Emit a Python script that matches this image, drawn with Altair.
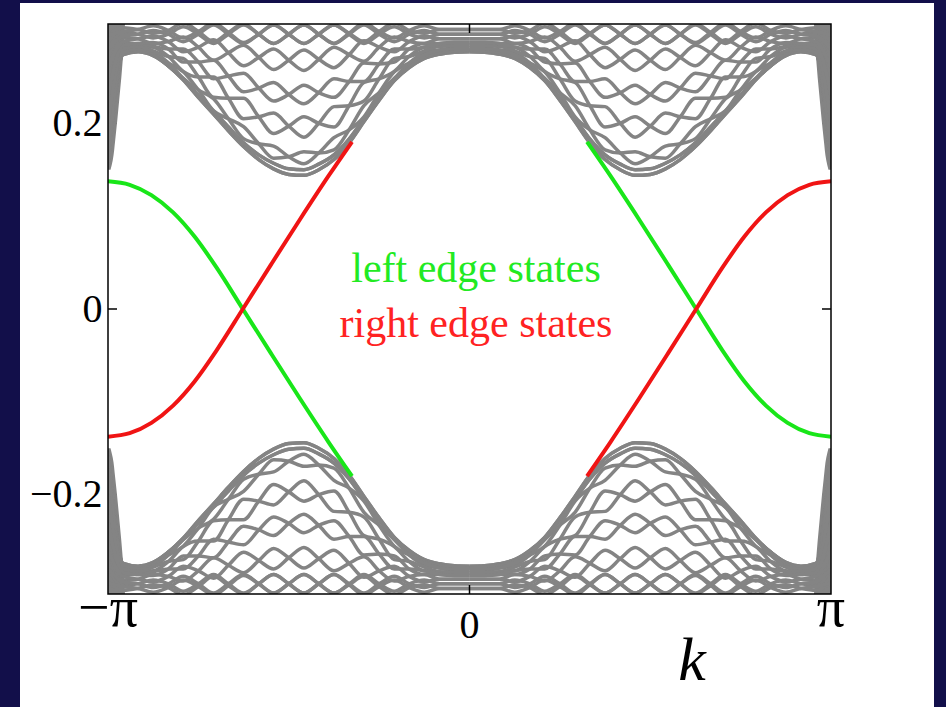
import altair as alt
import pandas as pd

# Momentum grid (in units of pi) for the k < 0 half of the zone
K_GRID = [-1.0, -0.958, -0.917, -0.875, -0.833, -0.792, -0.75, -0.708, -0.667,
          -0.625, -0.583, -0.542, -0.5, -0.458, -0.417, -0.375, -0.333, -0.292,
          -0.25, -0.208, -0.167, -0.125, -0.083, -0.042, 0.0]

# Alternating sign that makes paired bulk subbands braid around each other
BRAID = [0, 1, 0, -1, 0, 1, 0, -1, 0, 1, 0, -1, 0, 1, 0, -1, 0, 1, 0, -1, 0, 1, 0, -1, 0]

# Conduction-band subbands for k < 0 (centre of each braided pair, half splitting)
ENVELOPE = [0.154, 0.274, 0.277, 0.273, 0.262, 0.247, 0.228, 0.210, 0.192, 0.175,
            0.161, 0.151, 0.145, 0.144, 0.150, 0.161, 0.179, 0.202, 0.225, 0.246,
            0.260, 0.270, 0.2745, 0.2765, 0.277]
ENVELOPE_2 = [0.158, 0.275, 0.278, 0.274, 0.262, 0.248, 0.230, 0.213, 0.196, 0.179,
              0.166, 0.157, 0.151, 0.150, 0.156, 0.166, 0.183, 0.205, 0.227, 0.247,
              0.261, 0.272, 0.2765, 0.278, 0.279]
ROW_B = [0.172, 0.277, 0.280, 0.276, 0.265, 0.252, 0.236, 0.220, 0.205, 0.190,
         0.178, 0.169, 0.164, 0.163, 0.168, 0.178, 0.193, 0.213, 0.233, 0.252,
         0.265, 0.275, 0.279, 0.281, 0.281]
GAP_B = [0, 0.0005, 0, 0.001, 0.002, 0.0035, 0.005, 0.0065, 0.0065, 0.0065,
         0.0065, 0.0065, 0.0065, 0.0065, 0.0065, 0.0065, 0.0065, 0.006, 0.005, 0.0035,
         0.002, 0.001, 0, 0, 0]
ROW_C = [0.200, 0.281, 0.283, 0.280, 0.272, 0.263, 0.250, 0.239, 0.227, 0.216,
         0.207, 0.200, 0.197, 0.196, 0.200, 0.207, 0.219, 0.234, 0.248, 0.263,
         0.272, 0.280, 0.283, 0.284, 0.284]
GAP_C = [0, 0.001, 0, 0.002, 0.005, 0.007, 0.009, 0.011, 0.011, 0.011,
         0.011, 0.011, 0.011, 0.011, 0.011, 0.011, 0.011, 0.010, 0.009, 0.007,
         0.005, 0.002, 0.001, 0, 0]
ROW_D = [0.230, 0.285, 0.286, 0.285, 0.280, 0.273, 0.266, 0.258, 0.251, 0.244,
         0.238, 0.234, 0.231, 0.231, 0.233, 0.238, 0.245, 0.255, 0.264, 0.273,
         0.280, 0.284, 0.286, 0.287, 0.287]
GAP_D = [0, 0.001, 0, 0.002, 0.005, 0.007, 0.009, 0.010, 0.010, 0.010,
         0.010, 0.010, 0.010, 0.010, 0.010, 0.010, 0.010, 0.010, 0.009, 0.007,
         0.005, 0.002, 0.001, 0, 0]
ROW_E = [0.260, 0.290, 0.291, 0.290, 0.288, 0.285, 0.282, 0.279, 0.276, 0.273,
         0.271, 0.269, 0.268, 0.268, 0.269, 0.271, 0.274, 0.278, 0.282, 0.285,
         0.288, 0.290, 0.291, 0.291, 0.291]
GAP_E = [0, 0.002, 0, 0.004, 0.006, 0.008, 0.010, 0.011, 0.011, 0.011,
         0.011, 0.011, 0.011, 0.011, 0.011, 0.011, 0.011, 0.011, 0.010, 0.008,
         0.006, 0.004, 0.002, 0, 0]
ROW_E2 = [0.280, 0.296, 0.296, 0.296, 0.296, 0.296, 0.296, 0.296, 0.296, 0.296,
          0.296, 0.296, 0.296, 0.296, 0.296, 0.296, 0.296, 0.296, 0.296, 0.296,
          0.296, 0.296, 0.296, 0.296, 0.296]
ROW_F = [0.295, 0.301, 0.301, 0.301, 0.300, 0.300, 0.299, 0.298, 0.298, 0.297,
         0.296, 0.296, 0.296, 0.296, 0.296, 0.296, 0.297, 0.298, 0.299, 0.300,
         0.300, 0.301, 0.301, 0.301, 0.301]
GAP_F = [0, 0.002, 0, 0.004, 0.006, 0.008, 0.010, 0.010, 0.010, 0.010,
         0.010, 0.010, 0.010, 0.010, 0.010, 0.010, 0.010, 0.010, 0.009, 0.008,
         0.006, 0.004, 0.002, 0, 0]

NO_GAP = [0] * len(K_GRID)

# Narrow bulk wedge hugging the zone boundary (right edge of the wedge, k < 0 side)
SPIKE_E = [0.150, 0.160, 0.182, 0.225, 0.274, 0.307]
SPIKE_K = [-0.993, -0.987, -0.980, -0.969, -0.958, -0.953]

# Left-edge (helical) state for k < 0; its partner is the mirror image in energy
EDGE_K = [-1.0, -0.94, -0.88, -0.82, -0.76, -0.70, -0.627, -0.55, -0.47, -0.39, -0.325]
EDGE_LEFT_E = [0.1375, 0.1338, 0.1227, 0.1041, 0.0778, 0.0448, 0.0,
               -0.0473, -0.0959, -0.1433, -0.1801]

Y_TICKS = [-0.2, 0.0, 0.2]
X_TICKS = [-1.0, 0.0, 1.0]
X_TICK_LABELS = ["\u2212\u03c0", "0", "\u03c0"]
STATE_LABELS = ["left edge states", "right edge states"]

GRAY = "#848484"
GREEN = "#19e619"
RED = "#f01414"
NAVY = "#120f4a"
SERIF = "Liberation Serif"

W, H = 723, 570
E_DOM = [-0.307, 0.307]

# ---- bulk bands: k -> -k and E -> -E copies of the k<0 conduction subbands ----
rows = [
    ("env", ENVELOPE, NO_GAP), ("env2", ENVELOPE_2, NO_GAP),
    ("b", ROW_B, GAP_B), ("c", ROW_C, GAP_C), ("d", ROW_D, GAP_D),
    ("e", ROW_E, GAP_E), ("e2", ROW_E2, GAP_F), ("f", ROW_F, GAP_F),
]
recs = []
for name, centre, gap in rows:
    for strand in (1, -1):
        for sk in (1, -1):
            for se in (1, -1):
                cid = f"{name}{strand}{sk}{se}"
                for k, c, g, b in zip(K_GRID, centre, gap, BRAID):
                    recs.append({"k": sk * k, "E": se * (c + strand * b * g), "curve": cid})
bulk = pd.DataFrame(recs)

spike_recs = []
for sk in (1, -1):
    for se in (1, -1):
        for k, e in zip(SPIKE_K, SPIKE_E):
            spike_recs.append({"k": sk * k, "k0": -1.0 * sk, "E": se * e, "corner": f"{sk}{se}"})
spikes = pd.DataFrame(spike_recs)

edge_recs = []
for sk in (1, -1):
    for k, e in zip(EDGE_K, EDGE_LEFT_E):
        # left-edge branch is green on the k<0 side and mirrors onto k>0
        edge_recs.append({"k": sk * k, "E": e * sk, "curve": f"L{sk}", "side": "left"})
        edge_recs.append({"k": sk * k, "E": -e * sk, "curve": f"R{sk}", "side": "right"})
edges = pd.DataFrame(edge_recs)

xs = alt.Scale(domain=[-1, 1], nice=False, zero=False)
ys = alt.Scale(domain=E_DOM, nice=False, zero=False)

one = pd.DataFrame({"p": [0]})
panel = alt.Chart(one).mark_rect(color="white", clip=False).encode(
    x=alt.value(-88), x2=alt.value(826), y=alt.value(-21), y2=alt.value(683)
)
frame = alt.Chart(one).mark_rect(
    fillOpacity=0, stroke="black", strokeWidth=1.5, clip=False
).encode(x=alt.value(0), x2=alt.value(W), y=alt.value(0), y2=alt.value(H))

yt_df = pd.DataFrame({"E": Y_TICKS})
tick_left = alt.Chart(yt_df).mark_rule(color="black", strokeWidth=1.5).encode(
    y=alt.Y("E:Q", scale=ys, axis=alt.Axis(
        values=Y_TICKS, format="~g", title=None, domain=False, grid=False, ticks=False,
        labelFont=SERIF, labelFontSize=40, labelColor="black", labelPadding=6, zindex=2)),
    x=alt.value(0), x2=alt.value(9))
tick_right = alt.Chart(yt_df).mark_rule(color="black", strokeWidth=1.5).encode(
    y=alt.Y("E:Q", scale=ys), x=alt.value(W - 9), x2=alt.value(W))

spike_area = alt.Chart(spikes).mark_area(
    color=GRAY, orient="horizontal", interpolate="monotone", clip=True
).encode(
    y=alt.Y("E:Q", scale=ys),
    x=alt.X("k:Q", scale=xs, axis=None),
    x2="k0:Q",
    detail="corner:N",
)

bulk_lines = alt.Chart(bulk).mark_line(
    color=GRAY, strokeWidth=3.5, interpolate="monotone", clip=True
).encode(
    x=alt.X("k:Q", scale=xs, axis=None),
    y=alt.Y("E:Q", scale=ys),
    detail="curve:N",
)

edge_lines = alt.Chart(edges).mark_line(strokeWidth=4, interpolate="monotone", clip=True).encode(
    x=alt.X("k:Q", scale=xs),
    y=alt.Y("E:Q", scale=ys),
    detail="curve:N",
    color=alt.Color("side:N", scale=alt.Scale(domain=["left", "right"], range=[GREEN, RED]), legend=None),
)

left_text = alt.Chart(pd.DataFrame({"text": [STATE_LABELS[0]]})).mark_text(
    font=SERIF, fontSize=42, baseline="alphabetic", align="center", color="#22ea22"
).encode(text="text:N", x=alt.value(368), y=alt.value(258))
right_text = alt.Chart(pd.DataFrame({"text": [STATE_LABELS[1]]})).mark_text(
    font=SERIF, fontSize=42, baseline="alphabetic", align="center", color="#ff2222"
).encode(text="text:N", x=alt.value(368), y=alt.value(313))

xt_df = pd.DataFrame({"k": X_TICKS, "label": X_TICK_LABELS})
x_pi = alt.Chart(xt_df).transform_filter("datum.k != 0").mark_text(
    font=SERIF, fontSize=56, baseline="alphabetic", color="black", clip=False
).encode(x=alt.X("k:Q", scale=xs), y=alt.value(602), text="label:N")
x_zero = alt.Chart(xt_df).transform_filter("datum.k == 0").mark_text(
    font=SERIF, fontSize=40, baseline="alphabetic", color="black", clip=False
).encode(x=alt.X("k:Q", scale=xs), y=alt.value(614), text="label:N")
k_title = alt.Chart(pd.DataFrame({"t": ["k"]})).mark_text(
    font=SERIF, fontSize=62, fontStyle="italic", baseline="alphabetic", color="black", clip=False
).encode(x=alt.value(584), y=alt.value(656), text="t:N")

xt0 = pd.DataFrame({"k": [0.0]})
tick_top = alt.Chart(xt0).mark_rule(color="black", strokeWidth=1.5).encode(
    x=alt.X("k:Q", scale=xs), y=alt.value(0), y2=alt.value(9))
tick_bottom = alt.Chart(xt0).mark_rule(color="black", strokeWidth=1.5).encode(
    x=alt.X("k:Q", scale=xs), y=alt.value(H - 9), y2=alt.value(H))

chart = alt.layer(
    panel, tick_left, tick_right, spike_area, bulk_lines, edge_lines,
    left_text, right_text, x_pi, x_zero, k_title, frame, tick_top, tick_bottom,
).properties(
    width=W, height=H,
    autosize=alt.AutoSizeParams(type="none"),
    padding={"left": 108, "top": 24, "right": 115, "bottom": 113},
    background=NAVY,
).configure_view(stroke="black", strokeWidth=1.5)

chart.save("out.html", embed_options={"renderer": "svg", "actions": False})
